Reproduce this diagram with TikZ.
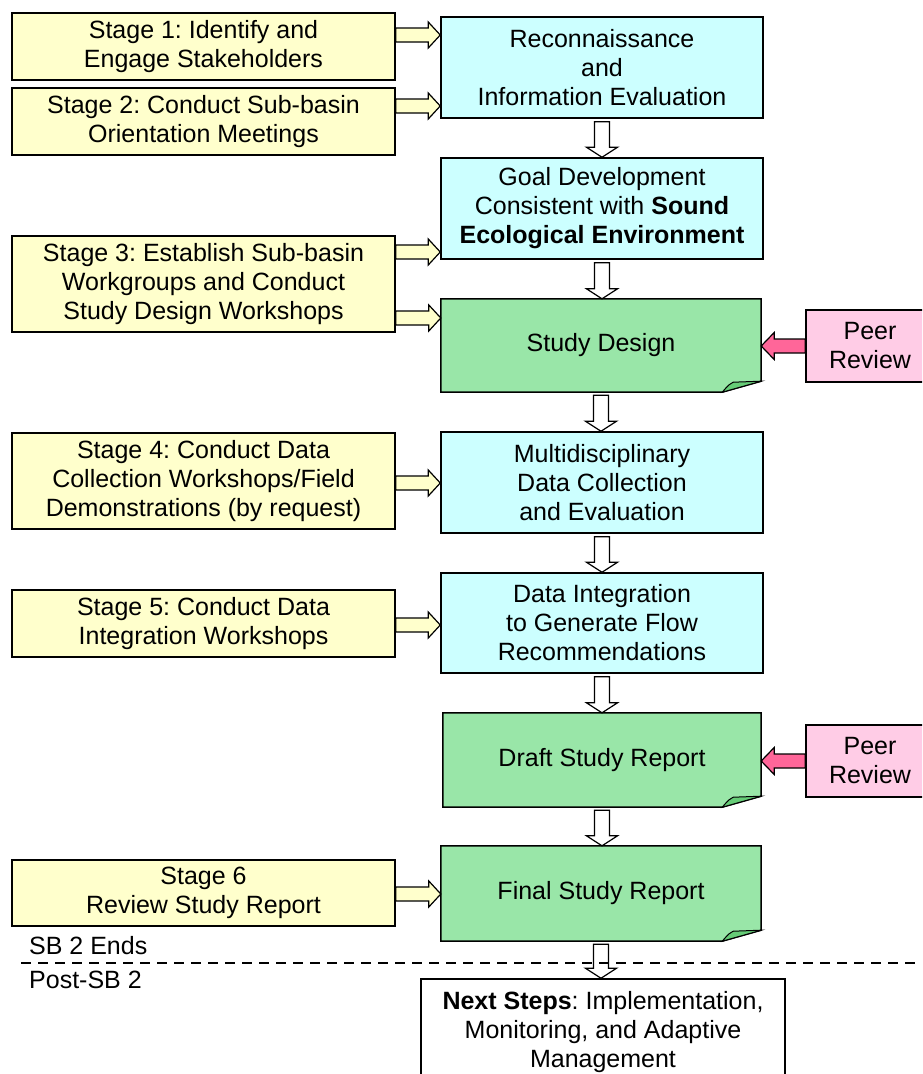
\documentclass[tikz,border=0pt]{standalone}
\usepackage{fontspec}
\setmainfont{Liberation Sans}
\usetikzlibrary{calc}
\frenchspacing

\definecolor{stageyellow}{RGB}{255,255,204}
\definecolor{taskcyan}{RGB}{204,255,255}
\definecolor{reportgreen}{RGB}{153,230,168}
\definecolor{foldgreen}{RGB}{102,204,119}
\definecolor{peerpink}{RGB}{255,204,230}
\definecolor{arrowpink}{RGB}{255,102,153}

% hollow arrow going down from one box to the next
\newcommand{\downblock}[2]{%
  \draw[hollowarrow] let \p1=(#1.south), \p2=(#2.north) in
    ({\x1-7.5pt},{\y1-3pt}) -- ({\x1+7.5pt},{\y1-3pt}) -- ({\x1+7.5pt},{\y2+10pt})
    -- ({\x1+15.5pt},{\y2+10pt}) -- (\x1,\y2) -- ({\x1-15.5pt},{\y2+10pt})
    -- ({\x1-7.5pt},{\y2+10pt}) -- cycle;
}
% yellow arrow from a stage box to the right
\newcommand{\rightblock}[2]{%
  \draw[stagearrow] let \p1=(#1), \p2=(#2.west) in
    (\x1,{\y1+7pt}) -- ({\x2-12pt},{\y1+7pt}) -- ({\x2-12pt},{\y1+13pt}) -- (\x2,\y1)
    -- ({\x2-12pt},{\y1-13pt}) -- ({\x2-12pt},{\y1-7pt}) -- (\x1,{\y1-7pt}) -- cycle;
}
% pink arrow from a peer review box to the left
\newcommand{\leftblock}[2]{%
  \draw[peerarrow] let \p1=(#1.west), \p2=(#2.east) in
    (\x1,{\y1+7pt}) -- ({\x2+13pt},{\y1+7pt}) -- ({\x2+13pt},{\y1+13.5pt}) -- (\x2,\y1)
    -- ({\x2+13pt},{\y1-13.5pt}) -- ({\x2+13pt},{\y1-7pt}) -- (\x1,{\y1-7pt}) -- cycle;
}
% outline and dog-ear of a report box
\newcommand{\foldcorner}[1]{%
  \fill[white] ($(#1.south east)+(1,-12)$) -- ($(#1.south east)+(1,1)$) -- ($(#1.south east)+(-40,1)$) -- cycle;
  \draw[line width=1.5pt] (#1.south west) -- (#1.north west) -- (#1.north east)
    -- ($(#1.south east)+(0,-11)$) -- ($(#1.south east)+(-39,0)$) -- cycle;
  \filldraw[fill=foldgreen, draw=black, line width=1pt] ($(#1.south east)+(-39,0)$)
    .. controls ($(#1.south east)+(-32,-8)$) .. ($(#1.south east)+(-28,-10)$)
    -- ($(#1.south east)+(0,-11)$) -- cycle;
}

\begin{document}
\begin{tikzpicture}[x=1pt, y=-1pt,
    box/.style={align=center, inner sep=0pt, font=\fontsize{25}{29}\selectfont},
    stagebox/.style={box, draw=black, line width=1.5pt, fill=stageyellow, minimum width=383pt},
    taskbox/.style={box, draw=black, line width=1.5pt, fill=taskcyan, minimum width=322pt},
    reportbox/.style={box, fill=reportgreen, minimum width=320pt},
    peerbox/.style={box, draw=black, line width=1.5pt, fill=peerpink, minimum width=128pt, minimum height=72pt},
    hollowarrow/.style={draw=black, fill=white, line width=1.2pt, line join=miter},
    stagearrow/.style={draw=black, fill=stageyellow, line width=1.2pt, line join=miter},
    peerarrow/.style={draw=black, fill=arrowpink, line width=1.2pt, line join=miter},
    sidetext/.style={font=\fontsize{25}{29}\selectfont, inner sep=0pt, anchor=west}]
  \clip (0,0) rectangle (922,1074);

  % Stages
  \node[stagebox, minimum height=67pt] (s1) at (203.5,46.5) {Stage 1: Identify and\\Engage Stakeholders};
  \node[stagebox, minimum height=67pt] (s2) at (203.5,121.5) {Stage 2: Conduct Sub-basin\\Orientation Meetings};
  \node[stagebox, minimum height=96pt] (s3) at (203.5,284) {Stage 3: Establish Sub-basin\\Workgroups and Conduct\\Study Design Workshops};
  \node[stagebox, minimum height=96pt] (s4) at (203.5,481) {Stage 4: Conduct Data\\Collection Workshops/Field\\Demonstrations (by request)};
  \node[stagebox, minimum height=67pt] (s5) at (203.5,623.5) {Stage 5: Conduct Data\\Integration Workshops};
  \node[stagebox, minimum height=66pt] (s6) at (203.5,893) {Stage 6\\Review Study Report};

  % Study steps
  \node[taskbox, minimum height=101pt] (recon) at (602,67.5) {Reconnaissance\\and\\Information Evaluation};
  \node[taskbox, minimum height=101pt] (goal) at (602,208.5) {Goal Development\\Consistent with \textbf{Sound}\\\textbf{Ecological Environment}};
  \node[reportbox, minimum height=93pt] (design) at (601,345.5) {Study Design};
  \foldcorner{design}
  \node[taskbox, minimum height=101pt] (multi) at (602,482.5) {Multidisciplinary\\Data Collection\\and Evaluation};
  \node[taskbox, minimum height=100pt] (integ) at (602,623) {Data Integration\\to Generate Flow\\Recommendations};
  \node[reportbox, minimum height=94pt, minimum width=318pt] (draft) at (602,760) {Draft Study Report};
  \foldcorner{draft}
  \node[reportbox, minimum height=95pt] (final) at (601,893.5) {Final Study Report};
  \foldcorner{final}
  \node[box, draw=black, line width=1.5pt, fill=white, minimum width=364pt, minimum height=106pt] (next) at (603,1032) {\textbf{Next Steps}: Implementation,\\Monitoring, and Adaptive\\Management};

  % Peer review
  \node[peerbox] (peer1) at (870,346) {Peer\\Review};
  \node[peerbox] (peer2) at (870,761) {Peer\\Review};

  % Arrows
  \rightblock{$(s1.east)+(0,-11.5)$}{recon}
  \rightblock{$(s2.east)+(0,-15.5)$}{recon}
  \rightblock{$(s3.east)+(0,-32)$}{goal}
  \rightblock{$(s3.east)+(0,34)$}{design}
  \rightblock{$(s4.east)+(0,2)$}{multi}
  \rightblock{$(s5.east)+(0,1.5)$}{integ}
  \rightblock{$(s6.east)+(0,1)$}{final}
  \leftblock{peer1}{design}
  \leftblock{peer2}{draft}
  \downblock{recon}{goal}
  \downblock{goal}{design}
  \downblock{design}{multi}
  \downblock{multi}{integ}
  \downblock{integ}{draft}
  \downblock{draft}{final}
  \downblock{final}{next}

  % SB 2 boundary
  \coordinate (cutleft) at (21,963);
  \coordinate (cutright) at (922,963);
  \draw[line width=2.5pt, dash pattern=on 10pt off 7pt] (cutleft) -- (cutright);
  \node[sidetext] (ends) at (29,946) {SB 2 Ends};
  \node[sidetext] (post) at (29,980) {Post-SB 2};
\end{tikzpicture}
\end{document}
